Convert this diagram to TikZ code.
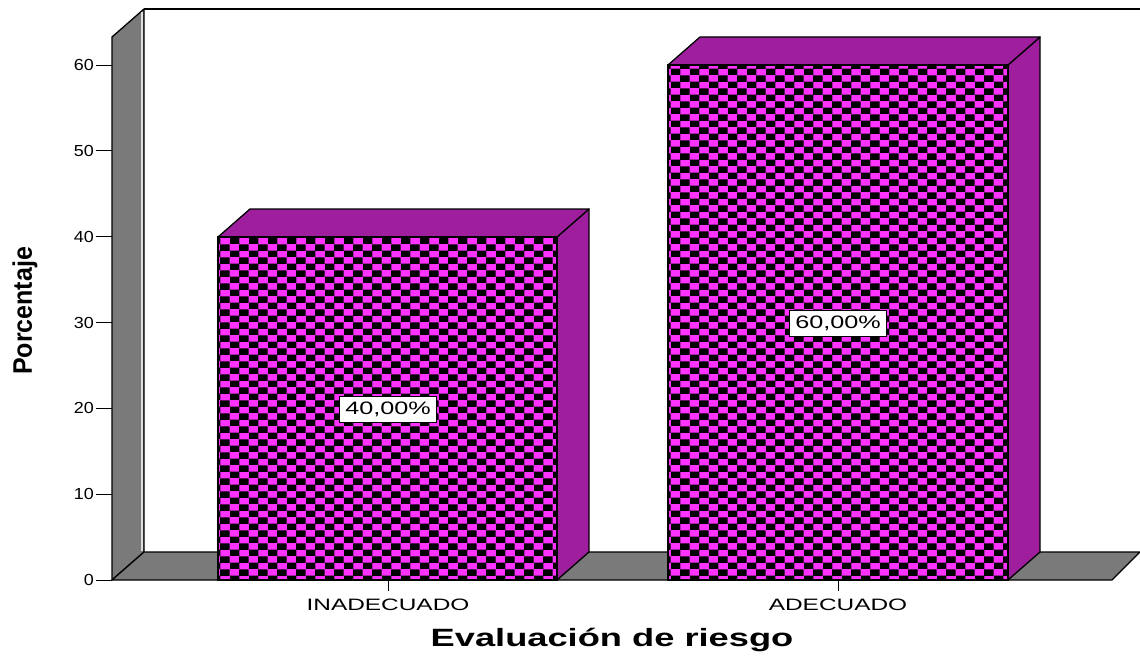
\documentclass[tikz,border=0pt]{standalone}
\usepackage{fontspec}
\setmainfont{Liberation Sans}
\usetikzlibrary{patterns}
\definecolor{checkpink}{RGB}{255,51,255}
\definecolor{barpurple}{RGB}{158,30,158}
\definecolor{wallgray}{RGB}{122,122,122}
\pgfdeclarepatternformonly{checks}{\pgfpointorigin}{\pgfqpoint{19.2pt}{13.2pt}}{\pgfqpoint{19.2pt}{13.2pt}}
{
    \pgfpathrectangle{\pgfpointorigin}{\pgfqpoint{9.8pt}{6.8pt}}
    \pgfpathrectangle{\pgfqpoint{9.6pt}{6.6pt}}{\pgfqpoint{9.8pt}{6.8pt}}
    \pgfusepath{fill}
}
\tikzset{
    wall/.style = {draw = black, fill = wallgray, line width = 1.3pt, line join = round},
    barfront/.style = {draw = black, fill = checkpink, line width = 1.3pt},
    checks/.style = {pattern = checks, pattern color = black},
    barside/.style = {draw = black, fill = barpurple, line width = 1.3pt, line join = round},
    ticklabel/.style = {anchor = east, inner sep = 0pt, font = \fontsize{16}{16}\selectfont},
    catlabel/.style = {inner sep = 0pt, font = \fontsize{16.5}{16.5}\selectfont},
    valuebox/.style = {draw = black, fill = white, line width = 1pt, minimum width = 97pt, minimum height = 26pt, inner sep = 0pt, font = \fontsize{18}{18}\selectfont}
}
\begin{document}
\begin{tikzpicture}[x = 1pt, y = -1pt]
\useasboundingbox (0,0) rectangle (1140,661);
\draw[line width = 1.3pt] (144,9) -- (1140,9);
\filldraw[wall] (112,580) -- (112,37) -- (144,9) -- (144,552) -- cycle;
\draw[white!75!wallgray, line width = 1.5pt] (142,12) -- (142,551);
\filldraw[wall] (112,580) -- (144,552) -- (1140,552) -- (1112,580) -- cycle;
\foreach \v in {0,10,...,60}
{
    \draw[line width = 1pt] (96,580-8.583*\v) -- (112,580-8.583*\v);
    \node[ticklabel] (tick\v) at (94,580-8.583*\v) {\scalebox{1.12}[1]{\v}};
}
\draw[line width = 1pt] (388,580) -- (388,591);
\draw[line width = 1pt] (838,580) -- (838,591);
\filldraw[barside] (557,580) -- (557,237) -- (589,209) -- (589,552) -- cycle;
\filldraw[barside] (218,237) -- (250,209) -- (589,209) -- (557,237) -- cycle;
\filldraw[barfront] (218,237) rectangle (557,580);
\fill[checks] (218,237) rectangle (557,580);
\draw[line width = 1.3pt] (218,237) rectangle (557,580);
\filldraw[barside] (1008,580) -- (1008,65) -- (1040,37) -- (1040,552) -- cycle;
\filldraw[barside] (668,65) -- (700,37) -- (1040,37) -- (1008,65) -- cycle;
\filldraw[barfront] (668,65) rectangle (1008,580);
\fill[checks] (668,65) rectangle (1008,580);
\draw[line width = 1.3pt] (668,65) rectangle (1008,580);
\node[valuebox] (inadvalue) at (388,409) {\scalebox{1.4}[1]{40,00\%}};
\node[valuebox] (adecvalue) at (838,323) {\scalebox{1.4}[1]{60,00\%}};
\node[catlabel] (inad) at (388,605) {\scalebox{1.48}[1]{INADECUADO}};
\node[catlabel] (adec) at (838,605) {\scalebox{1.48}[1]{ADECUADO}};
\node[inner sep = 0pt, font = \fontsize{25}{25}\selectfont\bfseries] (xtitle) at (612,640) {\scalebox{1.45}[1]{Evaluación de riesgo}};
\node[inner sep = 0pt, rotate = 90, font = \fontsize{20}{20}\selectfont\bfseries] (ytitle) at (25,311) {\scalebox{1.25}[1.34]{Porcentaje}};
\end{tikzpicture}
\end{document}
